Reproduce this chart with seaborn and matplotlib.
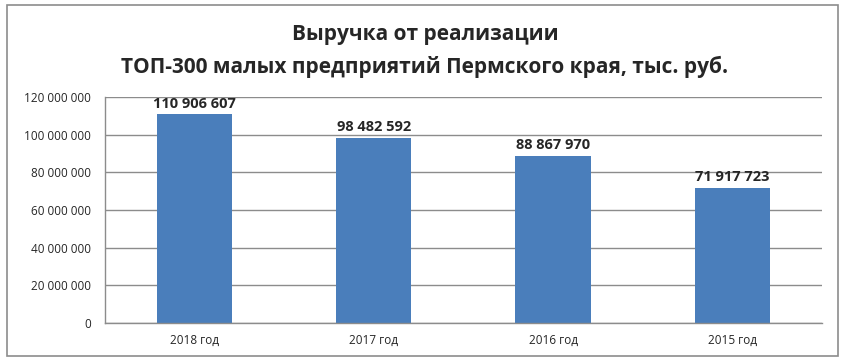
import pandas as pd
import numpy as np
import matplotlib.pyplot as plt
import seaborn as sns
from matplotlib.patches import Rectangle

# Data
years = ['2018 год', '2017 год', '2016 год', '2015 год']
revenue = [110906607, 98482592, 88867970, 71917723]
y_ticks = [0, 20000000, 40000000, 60000000, 80000000, 100000000, 120000000]

def fmt(v):
    return f'{v:,}'.replace(',', ' ')

df = pd.DataFrame({'year': years, 'revenue': revenue})

sns.set_style('white')
plt.rcParams['font.family'] = ['Open Sans', 'DejaVu Sans']

fig = plt.figure(figsize=(8.45, 3.64), dpi=100)
ax = fig.add_axes([0.124, 0.1126, 0.849, 0.621])

sns.barplot(x='year', y='revenue', data=df, color='#4a7ebb', width=0.42,
            saturation=1, edgecolor='none', ax=ax)

ax.set_ylim(0, 120000000)
ax.set_yticks(y_ticks)
ax.set_yticklabels([fmt(v) for v in y_ticks], fontsize=8.5)
ax.tick_params(axis='x', labelsize=8.5, length=0, pad=8)
ax.tick_params(axis='y', length=0, pad=10)
ax.yaxis.grid(True, color='#8c8c8c', linewidth=1)
ax.set_axisbelow(True)
ax.set_xlabel('')
ax.set_ylabel('')
for side in ['top', 'right']:
    ax.spines[side].set_visible(False)
for side in ['left', 'bottom']:
    ax.spines[side].set_color('#8c8c8c')
    ax.spines[side].set_linewidth(1)

# Value labels
for i, v in enumerate(revenue):
    ax.text(i, v + 1800000, fmt(v), ha='center', va='bottom',
            fontsize=10.5, fontweight='bold')

# Title
fig.text(0.503, 0.905, 'Выручка от реализации', ha='center', va='center',
         fontsize=15, fontweight='bold')
fig.text(0.503, 0.817, 'ТОП-300 малых предприятий Пермского края, тыс. руб.',
         ha='center', va='center', fontsize=15, fontweight='bold')

# Outer border
fig.patches.append(Rectangle((7 / 845, 1 - 356 / 364), 831 / 845, 351 / 364,
                             transform=fig.transFigure, fill=False,
                             edgecolor='#8c8c8c', linewidth=1.2))

fig.savefig('out.png', dpi=100)
